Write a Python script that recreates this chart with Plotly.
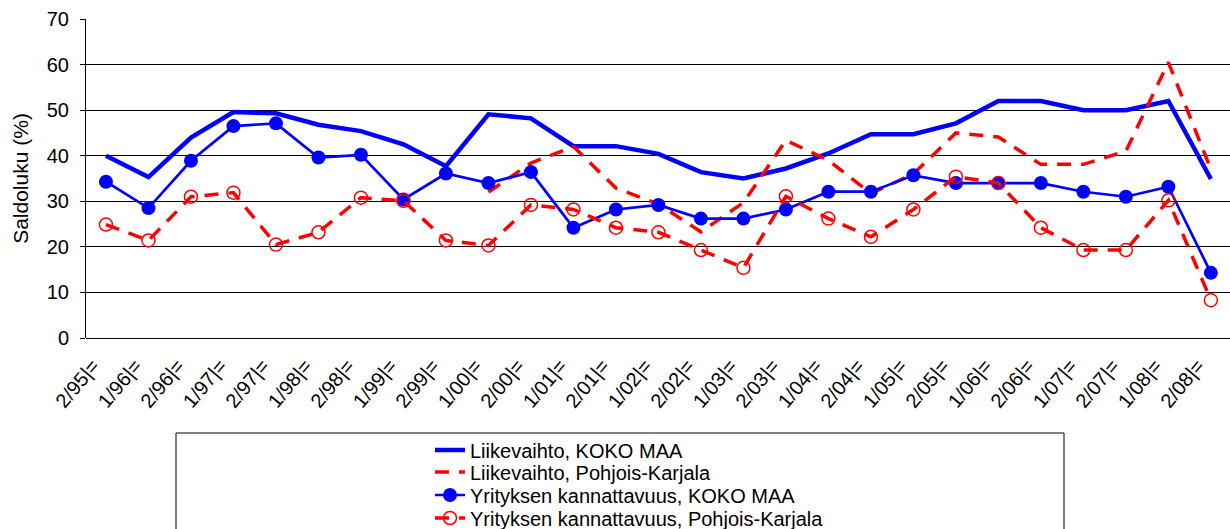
import plotly.graph_objects as go

categories = ["2/95|=", "1/96|=", "2/96|=", "1/97|=", "2/97|=", "1/98|=", "2/98|=",
              "1/99|=", "2/99|=", "1/00|=", "2/00|=", "1/01|=", "2/01|=", "1/02|=",
              "2/02|=", "1/03|=", "2/03|=", "1/04|=", "2/04|=", "1/05|=", "2/05|=",
              "1/06|=", "2/06|=", "1/07|=", "2/07|=", "1/08|=", "2/08|="]

liikevaihto_koko = [40.0, 35.3, 44.0, 49.6, 49.3, 46.8, 45.4, 42.5, 37.7, 49.1, 48.2,
                    42.1, 42.1, 40.4, 36.4, 35.0, 37.2, 40.5, 44.7, 44.7, 47.1, 52.0,
                    52.0, 50.0, 50.0, 52.0, 34.9]
liikevaihto_pk = [None, None, None, None, None, None, None, None, None,
                  32.0, 38.4, 42.0, 32.9, 29.4, 23.3, 29.7, 43.4, 39.0, 31.7, 36.0,
                  45.0, 44.1, 38.1, 38.1, 41.0, 60.5, 37.0]
kannattavuus_koko = [34.3, 28.5, 38.9, 46.5, 47.1, 39.6, 40.2, 30.4, 36.1, 34.0, 36.4,
                     24.2, 28.2, 29.2, 26.2, 26.2, 28.2, 32.1, 32.1, 35.7, 34.0, 34.0,
                     34.0, 32.1, 31.0, 33.2, 14.3]
kannattavuus_pk = [24.9, 21.4, 31.0, 31.9, 20.5, 23.2, 30.8, 30.1, 21.4, 20.3, 29.2,
                   28.2, 24.2, 23.2, 19.3, 15.4, 31.1, 26.2, 22.2, 28.2, 35.4, 34.0,
                   24.2, 19.3, 19.3, 30.2, 8.3]

names = ["Liikevaihto, KOKO MAA", "Liikevaihto, Pohjois-Karjala",
         "Yrityksen kannattavuus, KOKO MAA", "Yrityksen kannattavuus, Pohjois-Karjala"]

BLUE = "#0000FF"
RED = "#FF0000"
FONT = "Liberation Sans, Arial, sans-serif"

fig = go.Figure()
fig.add_trace(go.Scatter(x=categories, y=liikevaihto_koko, name=names[0], mode="lines",
                         legend="legend",
                         line=dict(color=BLUE, width=4.5)))
fig.add_trace(go.Scatter(x=categories, y=liikevaihto_pk, name=names[1], mode="lines",
                         legend="legend2",
                         line=dict(color=RED, width=3.5, dash="14px,10px")))
fig.add_trace(go.Scatter(x=categories, y=kannattavuus_koko, name=names[2], mode="lines+markers",
                         legend="legend3",
                         line=dict(color=BLUE, width=2.7),
                         marker=dict(symbol="circle", size=14, color=BLUE)))
fig.add_trace(go.Scatter(x=categories, y=kannattavuus_pk, name=names[3], mode="lines+markers",
                         legend="legend4",
                         line=dict(color=RED, width=3.5, dash="14px,10px"),
                         marker=dict(symbol="circle-open", size=13, color=RED,
                                     line=dict(width=1.5, color=RED))))

L, R, T, B = 86, 0, 19, 191
W, H = 1230, 529
pw = W - L - R
ph = H - T - B

def px_x(px):
    return (px - L) / pw

def px_y(py):
    return (H - B - py) / ph

LEG_FONT = dict(family=FONT, size=20, color="black")
row_y = [450, 472, 495, 518]

def leg(i):
    return dict(x=px_x(430), y=px_y(row_y[i]), xanchor="left", yanchor="middle",
                bgcolor="rgba(0,0,0,0)", borderwidth=0, font=LEG_FONT,
                tracegroupgap=0, itemwidth=30)

fig.update_layout(
    width=W, height=H,
    margin=dict(l=L, r=R, t=T, b=B, autoexpand=False),
    paper_bgcolor="white", plot_bgcolor="white",
    font=dict(family=FONT, size=18, color="black"),
    showlegend=True,
    legend=leg(0), legend2=leg(1), legend3=leg(2), legend4=leg(3),
    shapes=[dict(type="rect", xref="paper", yref="paper",
                 x0=px_x(176), x1=px_x(1064), y0=px_y(560), y1=px_y(433),
                 line=dict(color="black", width=1), fillcolor="rgba(0,0,0,0)")],
)

fig.update_xaxes(
    type="category", categoryorder="array", categoryarray=categories,
    range=[-0.47, 26.45], automargin=False,
    tickangle=-50, tickfont=dict(family=FONT, size=20, color="black"),
    ticklabelshift=-13, ticklabelstandoff=11,
    showgrid=False, showline=False, ticks="", zeroline=False,
)
fig.update_yaxes(
    range=[0, 70], dtick=10, tick0=0, automargin=False,
    showgrid=True, gridcolor="black", gridwidth=1,
    showline=True, linecolor="black", linewidth=1,
    ticks="outside", ticklen=5, tickcolor="black",
    ticklabelstandoff=7,
    tickfont=dict(family=FONT, size=20, color="black"),
    zeroline=True, zerolinecolor="black", zerolinewidth=1,
    title=dict(text="Saldoluku (%)", font=dict(family=FONT, size=21, color="black"), standoff=12),
)

fig.write_html("out.html", config={"displayModeBar": False},
               post_script="document.body.style.margin='0px';document.body.style.overflow='hidden';")
